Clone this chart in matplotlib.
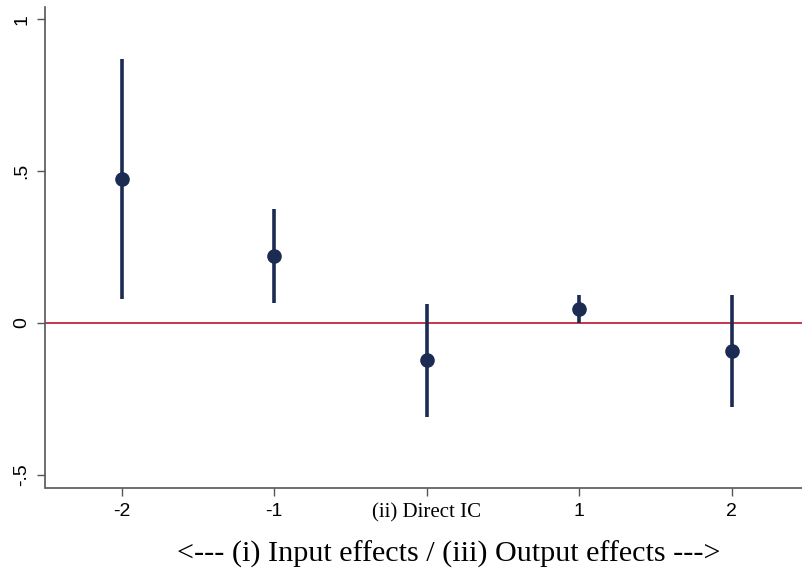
import matplotlib.pyplot as plt

# coefficient estimates and 95% CIs
positions = [-2, -1, 0, 1, 2]
x_labels = ["-2", "-1", "(ii) Direct IC", "1", "2"]
coef = [0.474, 0.220, -0.122, 0.046, -0.092]
ci_low = [0.079, 0.066, -0.309, 0.000, -0.276]
ci_high = [0.868, 0.375, 0.062, 0.092, 0.092]

y_ticks = [-0.5, 0, 0.5, 1]
y_labels = ["-.5", "0", ".5", "1"]

navy = "#1c2b52"
spine_col = "#555555"

fig = plt.figure(figsize=(8.03, 5.78), dpi=100)
# plot region runs past the right edge of the image (cropped original)
ax = fig.add_axes([45.5 / 803, 1 - 488 / 578, (852 - 45.5) / 803, (488 - 7) / 578])

ax.axhline(0, color="#c4263c", lw=1.3, zorder=1)
ax.vlines(positions, ci_low, ci_high, color=navy, lw=2.6, zorder=2)
ax.plot(positions, coef, "o", color=navy, ms=9.5, zorder=3)

ax.set_xlim(-2.5, 2.79)
ax.set_ylim(-0.543, 1.04)

ax.set_xticks(positions)
ax.set_xticklabels(x_labels, fontsize=14, family="Liberation Sans")
ax.get_xticklabels()[2].set_family("Liberation Serif")
ax.get_xticklabels()[2].set_fontsize(15)
ax.set_yticks(y_ticks)
ax.set_yticklabels(y_labels, fontsize=14, family="Liberation Sans",
                   rotation=90, va="center")

for s in ["top", "right"]:
    ax.spines[s].set_visible(False)
for s in ["left", "bottom"]:
    ax.spines[s].set_color(spine_col)
    ax.spines[s].set_linewidth(1.2)
ax.tick_params(length=6, width=1.0, color=spine_col, pad=5)

ax.set_xlabel("<--- (i) Input effects / (iii) Output effects --->",
              fontsize=21.7, family="Liberation Serif", labelpad=13)

fig.savefig("out.png", dpi=100)
